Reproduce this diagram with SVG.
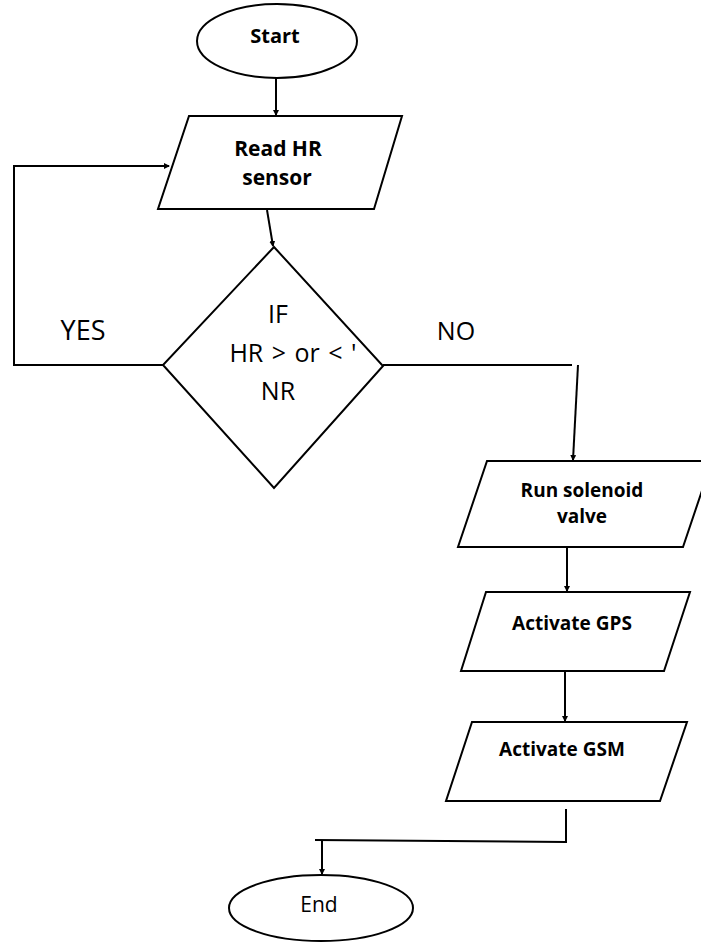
<svg xmlns="http://www.w3.org/2000/svg" width="701" height="944" viewBox="0 0 701 944">
<style>
.s{fill:#fff;stroke:#000;stroke-width:2}
.c{fill:none;stroke:#000;stroke-width:2}
.t{font-family:"Open Sans","Liberation Sans",sans-serif;fill:#000;text-anchor:middle}
.b{font-weight:bold}
</style>
<defs>
<marker id="a" markerWidth="6" markerHeight="6" refX="5" refY="3" orient="auto" markerUnits="userSpaceOnUse">
<path d="M0,0 L6,3 L0,6 z" fill="#000"/>
</marker>
</defs>
<rect width="701" height="944" fill="#fff"/>
<g id="connectors">
<path class="c" d="M276,78 L276,115" marker-end="url(#a)"/>
<path class="c" d="M267,210 L273,246" marker-end="url(#a)"/>
<path class="c" d="M163,365 L14,365 L14,166 L169,166" marker-end="url(#a)"/>
<path class="c" d="M383,365 L572,365"/>
<path class="c" d="M578,365 L573,460" marker-end="url(#a)"/>
<path class="c" d="M567,547 L567,591" marker-end="url(#a)"/>
<path class="c" d="M565,671 L565,721" marker-end="url(#a)"/>
<path class="c" d="M566,809 L566,842 L315,840"/>
<path class="c" d="M322,840 L322,874" marker-end="url(#a)"/>
</g>
<g id="start">
<ellipse class="s" cx="277" cy="41" rx="80" ry="37"/>
<text class="t b" x="275" y="43" font-size="20">Start</text>
</g>
<g id="read">
<polygon class="s" points="189,116 402,116 374,209 158,209"/>
<text class="t b" x="278" y="156" font-size="21">Read HR</text>
<text class="t b" x="277" y="185" font-size="21">sensor</text>
</g>
<g id="decision">
<polygon class="s" points="274,247 383,366 274,488 163,365"/>
<text class="t" x="278" y="323" font-size="25">IF</text>
<text class="t" x="293" y="362" font-size="25" word-spacing="2">HR &gt; or &lt; '</text>
<text class="t" x="278" y="400" font-size="25">NR</text>
</g>
<g id="labels">
<text class="t" x="83" y="340" font-size="27">YES</text>
<text class="t" x="456" y="340" font-size="25">NO</text>
</g>
<g id="solenoid">
<polygon class="s" points="487,461 712,461 683,547 458,547"/>
<text class="t b" x="582" y="497" font-size="19">Run solenoid</text>
<text class="t b" x="582" y="523" font-size="19">valve</text>
</g>
<g id="gps">
<polygon class="s" points="486,592 690,592 664,671 461,671"/>
<text class="t b" x="572" y="630" font-size="19">Activate GPS</text>
</g>
<g id="gsm">
<polygon class="s" points="472,722 687,722 660,801 446,801"/>
<text class="t b" x="562" y="756" font-size="19">Activate GSM</text>
</g>
<g id="end">
<ellipse class="s" cx="321" cy="908" rx="92" ry="33"/>
<text class="t" x="319" y="912" font-size="21">End</text>
</g>
</svg>
